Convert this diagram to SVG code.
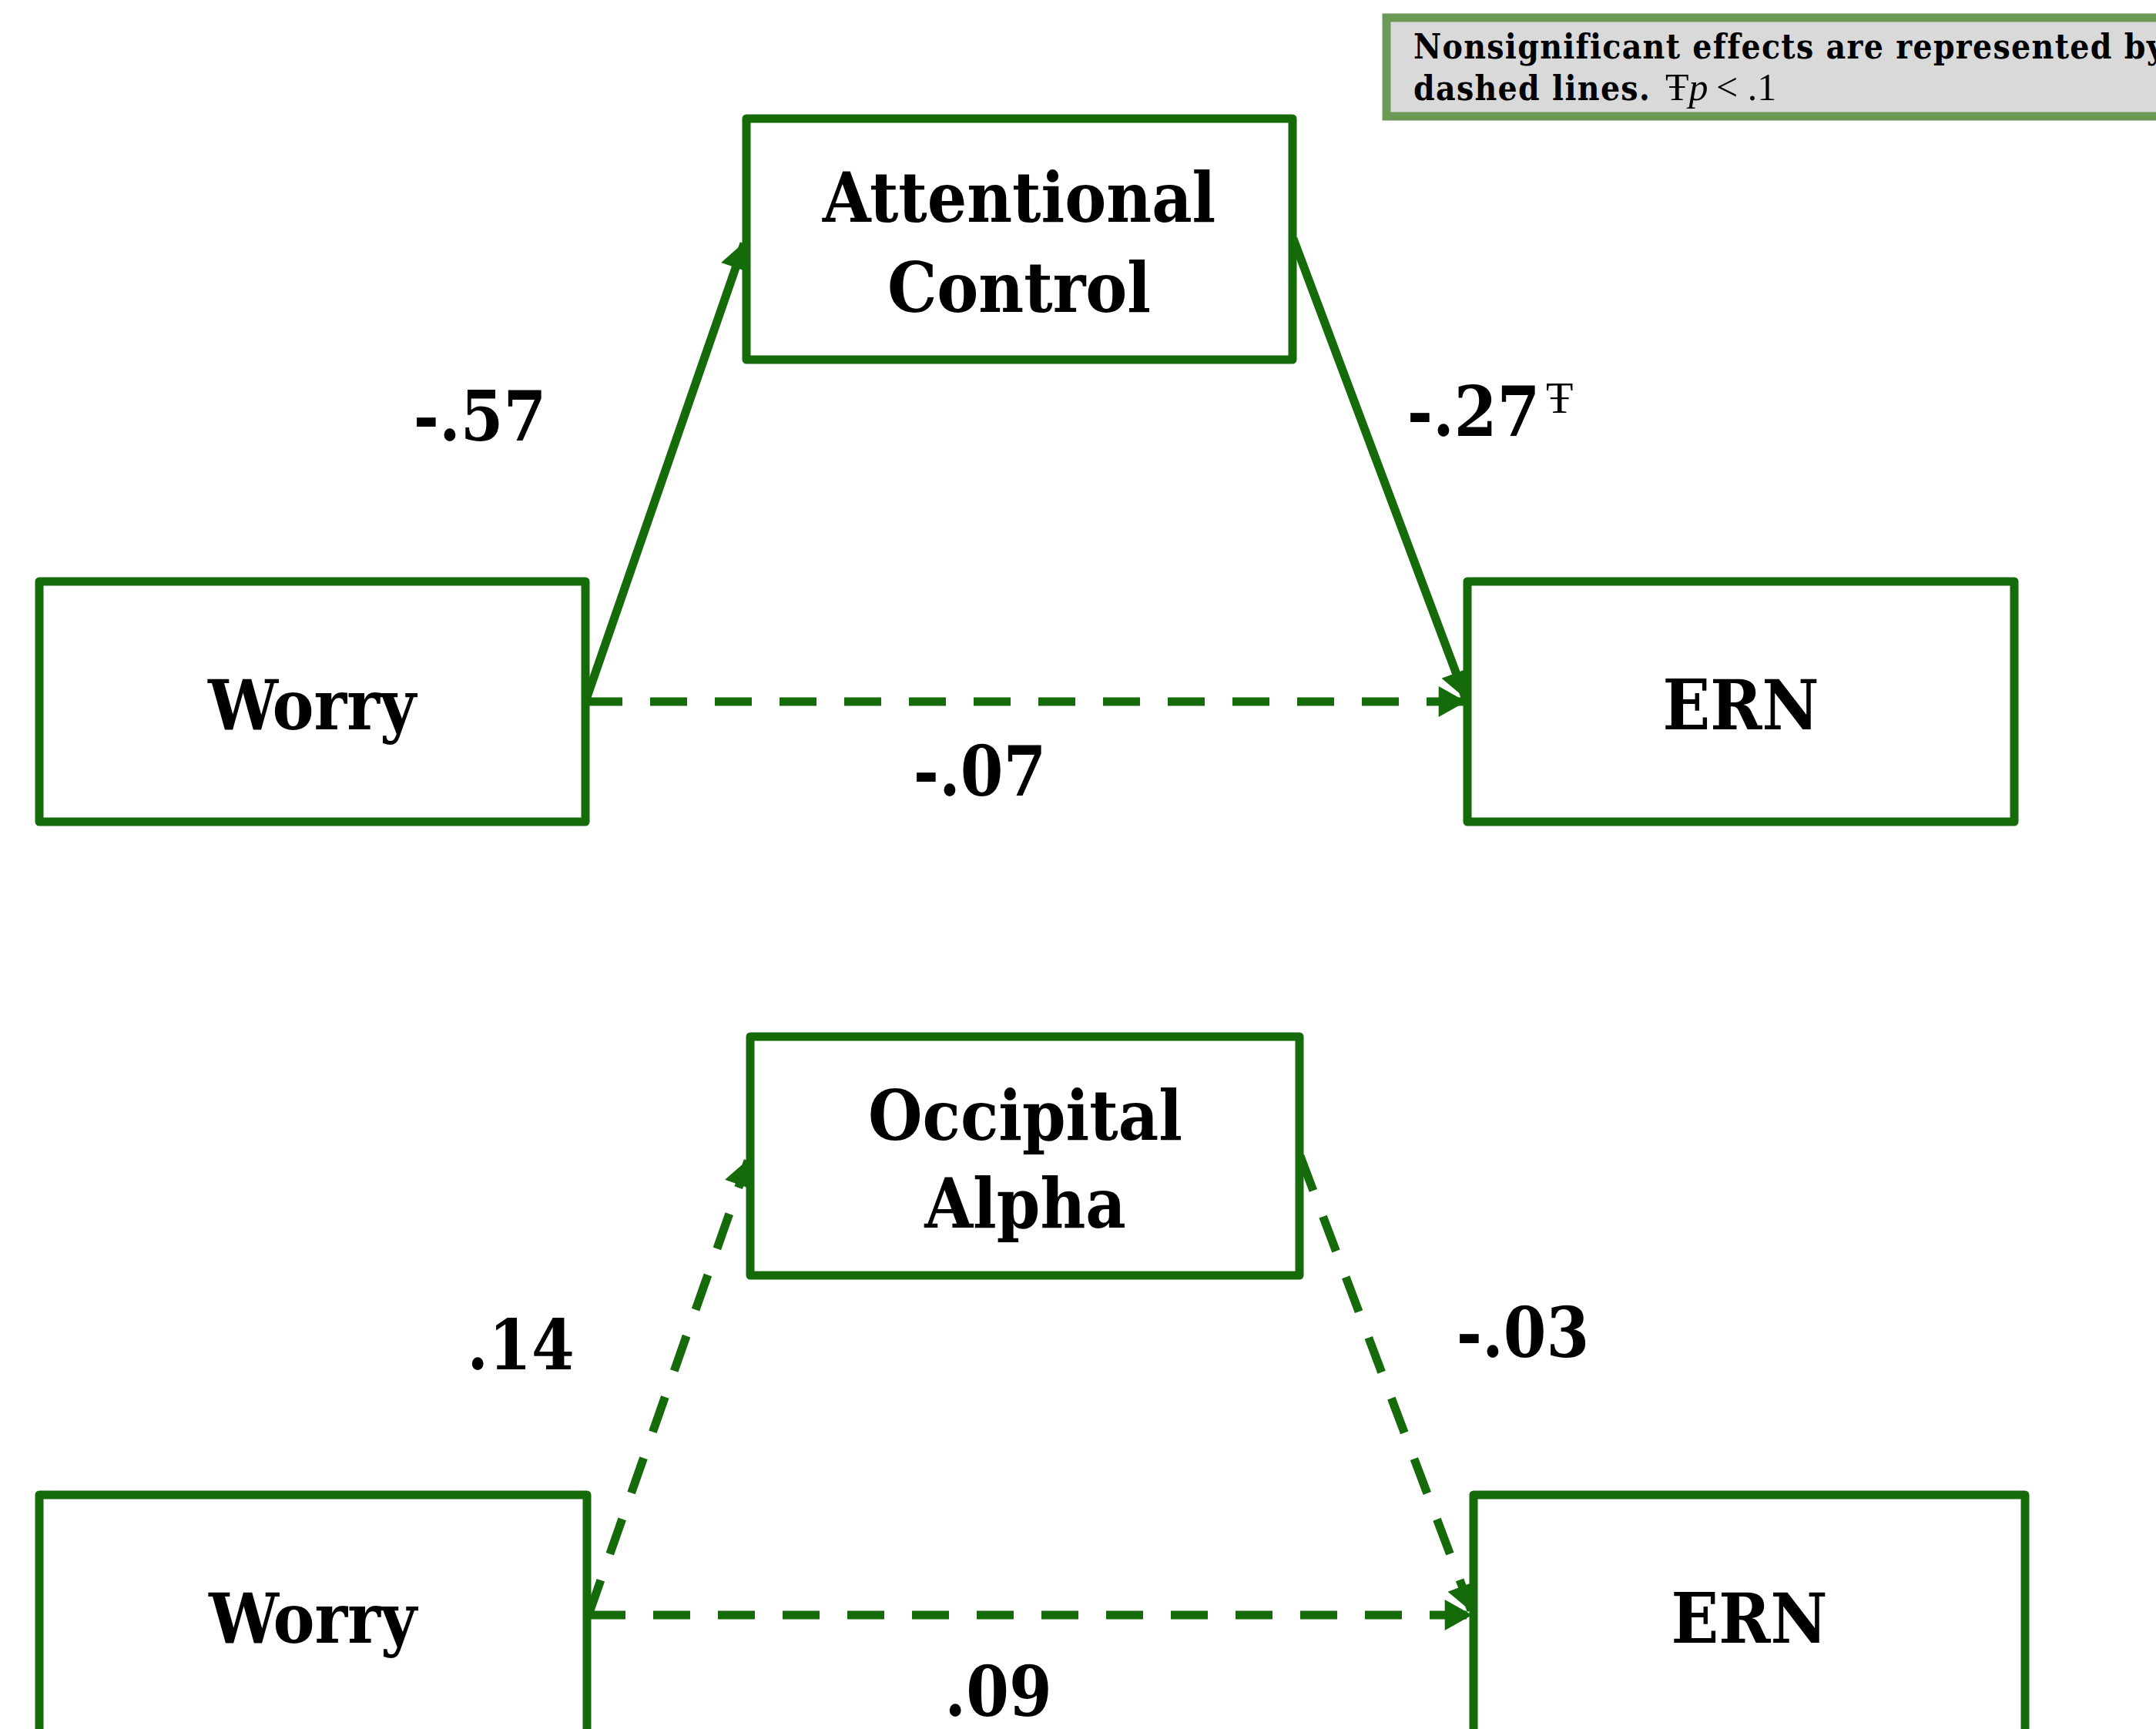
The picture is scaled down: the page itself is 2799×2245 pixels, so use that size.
<svg xmlns="http://www.w3.org/2000/svg" width="2799" height="2245" viewBox="0 0 2799 2245">
<style>
.box{fill:#ffffff;stroke:#156b0a;stroke-width:11;stroke-linejoin:round}
.lbl{font-family:'DejaVu Serif Condensed','DejaVu Serif',serif;font-weight:bold;font-stretch:condensed;font-size:90px;fill:#000;text-anchor:middle}
.num{font-family:'DejaVu Serif Condensed','DejaVu Serif',serif;font-weight:bold;font-stretch:condensed;font-size:89px;fill:#000;text-anchor:middle}
.edge{fill:none;stroke:#156b0a;stroke-width:11}
.dash{stroke-dasharray:48 36}
.leg{font-family:'DejaVu Serif Condensed','DejaVu Serif',serif;font-weight:bold;font-stretch:condensed;font-size:44px;fill:#000;letter-spacing:1.3px}
.tms{font-family:'Liberation Serif',serif;font-weight:normal;font-stretch:normal;letter-spacing:0}
</style>
<defs>
<marker id="ah" markerUnits="userSpaceOnUse" markerWidth="40" markerHeight="40" viewBox="0 0 32 36" refX="30" refY="18" orient="auto">
<path d="M0,0 L32,18 L0,36 Z" fill="#156b0a"/>
</marker>
</defs>
<rect x="0" y="0" width="2799" height="2245" fill="#ffffff"/>
<g id="connectors">
<line class="edge" x1="760" y1="911" x2="966" y2="316" marker-end="url(#ah)"/>
<line class="edge" x1="1679" y1="310" x2="1902" y2="905" marker-end="url(#ah)"/>
<line class="edge dash" x1="760" y1="911" x2="1901" y2="911" marker-end="url(#ah)"/>
<line class="edge dash" x1="764" y1="2097" x2="971" y2="1507" marker-end="url(#ah)"/>
<line class="edge dash" x1="1688" y1="1501" x2="1910" y2="2091" marker-end="url(#ah)"/>
<line class="edge dash" x1="764" y1="2097" x2="1909" y2="2097" marker-end="url(#ah)"/>
</g>
<g id="legend">
<rect x="1800" y="23" width="1020" height="128" fill="#d9d9d9" stroke="#6a9a55" stroke-width="11"/>
<text class="leg" x="1835" y="76">Nonsignificant effects are represented by</text>
<text class="leg" x="1835" y="130">dashed lines.<tspan class="tms" x="2162" font-size="50">Ŧ</tspan><tspan class="tms" font-style="italic" font-size="50">p</tspan><tspan class="tms" font-size="50" x="2228">&lt; .1</tspan></text>
</g>
<g id="node-worry-top">
<rect class="box" x="51" y="755" width="709" height="312"/>
<text class="lbl" x="405" y="947">Worry</text>
</g>
<g id="node-attentional">
<rect class="box" x="969" y="154" width="709" height="313"/>
<text class="lbl" x="1323" y="288">Attentional</text>
<text class="lbl" x="1323" y="405">Control</text>
</g>
<g id="node-ern-top">
<rect class="box" x="1905" y="755" width="710" height="312"/>
<text class="lbl" x="2260" y="947">ERN</text>
</g>
<g id="node-worry-bottom">
<rect class="box" x="51" y="1941" width="711" height="312"/>
<text class="lbl" x="406" y="2133">Worry</text>
</g>
<g id="node-occipital">
<rect class="box" x="974" y="1346" width="713" height="310"/>
<text class="lbl" x="1331" y="1480">Occipital</text>
<text class="lbl" x="1331" y="1594">Alpha</text>
</g>
<g id="node-ern-bottom">
<rect class="box" x="1913" y="1941" width="716" height="312"/>
<text class="lbl" x="2271" y="2133">ERN</text>
</g>
<g id="labels">
<text class="num" x="623" y="572">-.57</text>
<text class="num" x="1913" y="566">-.27</text>
<text x="2007" y="536" font-family="'Liberation Serif',serif" font-size="58" fill="#000">Ŧ</text>
<text class="num" x="1272" y="1033">-.07</text>
<text class="num" x="676" y="1778">.14</text>
<text class="num" x="1977" y="1762">-.03</text>
<text class="num" x="1296" y="2228">.09</text>
</g>
</svg>
